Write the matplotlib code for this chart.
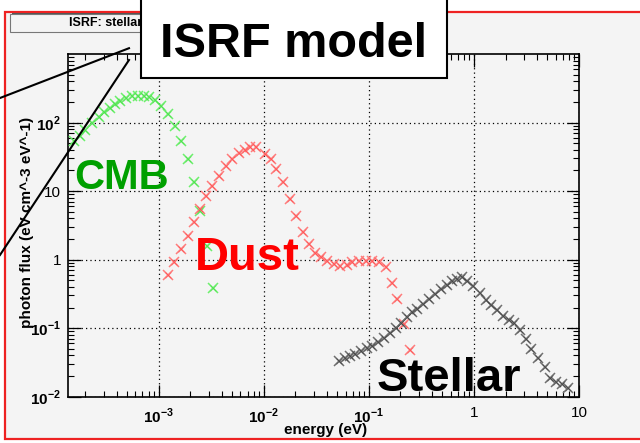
import matplotlib
matplotlib.use("Agg")
import matplotlib.pyplot as plt
from matplotlib.patches import Rectangle
from matplotlib.lines import Line2D
from matplotlib.ticker import FixedLocator, LogLocator, NullFormatter
from matplotlib.transforms import Bbox

plt.rcParams['font.family'] = ['Liberation Sans', 'DejaVu Sans']
plt.rcParams['mathtext.fontset'] = 'custom'
plt.rcParams['mathtext.rm'] = 'Liberation Sans:bold'
plt.rcParams['mathtext.bf'] = 'Liberation Sans:bold'

# ---- data: photon energy (eV) and flux (eV cm^-3 eV^-1) ----
E_cmb = [1.55e-4, 1.77e-4, 2.00e-4, 2.32e-4, 2.68e-4, 3.04e-4, 3.41e-4, 3.87e-4,
         4.32e-4, 4.92e-4, 5.58e-4, 6.31e-4, 7.20e-4, 8.03e-4, 9.16e-4, 1.06e-3,
         1.22e-3, 1.42e-3, 1.64e-3, 1.89e-3, 2.19e-3, 2.46e-3, 2.89e-3, 3.30e-3]
F_cmb = [53.0, 64.2, 76.7, 98.4, 118.7, 142, 163, 186, 208, 228, 240, 248, 248,
         235, 210, 176, 133, 89.8, 54.3, 29.4, 13.6, 5.18, 1.56, 0.387]

E_dust = [1.229e-3, 1.411e-3, 1.644e-3, 1.905e-3, 2.188e-3, 2.455e-3, 2.844e-3,
          3.243e-3, 3.784e-3, 4.385e-3, 5.035e-3, 5.78e-3, 6.59e-3, 7.46e-3,
          8.51e-3, 1.022e-2, 1.159e-2, 1.312e-2, 1.53e-2, 1.759e-2, 2.036e-2,
          2.338e-2, 2.69e-2, 3.04e-2, 3.467e-2, 4.018e-2, 4.645e-2, 5.37e-2,
          6.14e-2, 6.95e-2, 8.04e-2, 9.30e-2, 0.1076, 0.1245, 0.1442, 0.1644,
          0.1865, 0.2154, 0.2477]
F_dust = [0.594, 0.913, 1.432, 2.24, 3.50, 5.48, 8.37, 11.99, 16.77, 23.2, 29.4,
          35.9, 40.1, 43.4, 43.4, 35.1, 29.7, 21.2, 13.5, 7.75, 4.28, 2.56, 1.71,
          1.252, 1.087, 0.944, 0.866, 0.818, 0.846, 0.926, 0.967, 0.967, 0.944,
          0.913, 0.783, 0.462, 0.2674, 0.1148, 0.0488]

E_star = [0.0518, 0.0588, 0.0659, 0.0746, 0.0834, 0.0951, 0.1076, 0.122, 0.139,
          0.158, 0.1795, 0.204, 0.2286, 0.259, 0.289, 0.330, 0.3724, 0.4227,
          0.482, 0.5495, 0.614, 0.695, 0.775, 0.865, 0.986, 1.14, 1.29, 1.465,
          1.67, 1.905, 2.154, 2.404, 2.74, 3.105, 3.52, 4.08, 4.71, 5.26, 6.0,
          6.84, 7.89]
F_star = [0.0337, 0.0364, 0.0389, 0.0422, 0.0461, 0.0516, 0.0557, 0.0623, 0.0722,
          0.0854, 0.101, 0.1195, 0.146, 0.1705, 0.191, 0.2284, 0.2674, 0.316,
          0.374, 0.432, 0.483, 0.523, 0.560, 0.494, 0.418, 0.327, 0.261, 0.216,
          0.1824, 0.1527, 0.1334, 0.1195, 0.0954, 0.0698, 0.0499, 0.0369, 0.0275,
          0.01874, 0.01637, 0.01507, 0.01349]

x_ticks = [1e-3, 1e-2, 1e-1, 1, 10]
x_ticklabels = [r'$10^{-3}$', r'$10^{-2}$', r'$10^{-1}$', '1', '10']
y_ticks = [1e-2, 1e-1, 1, 10, 1e2]
y_ticklabels = [r'$10^{-2}$', r'$10^{-1}$', '1', '10', r'$10^{2}$']

W, H = 640, 443
fig = plt.figure(figsize=(W / 100, H / 100), dpi=100, facecolor='white')


def fx(x):
    return x / W


def fy(y):
    return 1 - y / H


# canvas pad with red frame
fig.patches.append(Rectangle((fx(5), fy(439)), fx(700) - fx(5), fy(12) - fy(439),
                             transform=fig.transFigure, facecolor='#f4f4f4',
                             edgecolor='#ee2222', linewidth=1.6, zorder=0))

ax = fig.add_axes([fx(68), fy(396.7), fx(579) - fx(68), fy(54) - fy(396.7)])
ax.set_zorder(1)
ax.set_facecolor('#f4f4f4')
ax.set_xscale('log')
ax.set_yscale('log')
ax.set_xlim(1.37e-4, 10)
ax.set_ylim(1e-2, 1e3)

ax.xaxis.set_major_locator(FixedLocator(x_ticks))
ax.yaxis.set_major_locator(FixedLocator(y_ticks))
ax.set_xticklabels(x_ticklabels)
ax.set_yticklabels(y_ticklabels)
ax.xaxis.set_minor_locator(LogLocator(base=10, subs=range(2, 10), numticks=20))
ax.yaxis.set_minor_locator(LogLocator(base=10, subs=range(2, 10), numticks=20))
ax.xaxis.set_minor_formatter(NullFormatter())
ax.yaxis.set_minor_formatter(NullFormatter())

ax.tick_params(which='both', direction='in', top=True, right=True, color='black')
ax.tick_params(which='major', length=9, width=0.9, labelsize=11)
ax.tick_params(which='minor', length=4.5, width=0.8)
ax.tick_params(axis='x', which='major', pad=7)
ax.tick_params(axis='y', which='major', pad=5)
for sp in ax.spines.values():
    sp.set_linewidth(1.2)

ax.grid(True, which='major', color='black', linestyle=(0, (1, 2.5)), linewidth=0.9)

# spectra: light crosses with a fainter darker cross on top
series = [
    (E_cmb, F_cmb, '#6cf06c', '#22cc22'),
    (E_dust, F_dust, '#ff7c7c', '#ff2020'),
    (E_star, F_star, '#707070', '#111111'),
]
for e, f, mcol, dcol in series:
    ax.plot(e, f, linestyle='none', marker='x', markersize=6.5, markeredgewidth=1.1,
            color=mcol, zorder=3)
    ax.plot(e, f, linestyle='none', marker='x', markersize=4, markeredgewidth=0.6,
            color=dcol, alpha=0.45, zorder=3)

# axis titles
fig.text(fx(367), fy(430), 'energy (eV)', ha='right', va='center',
         fontsize=11, fontweight='bold', zorder=4)
fig.text(fx(27), fy(222), 'photon flux (eV cm^-3 eV^-1)', ha='center', va='center',
         rotation=90, fontsize=11, fontweight='bold', zorder=4)

# component labels
fig.text(fx(74), fy(189), 'CMB', ha='left', va='baseline', fontsize=30,
         fontweight='bold', color='#00a000', zorder=4)
fig.text(fx(195), fy(270), 'Dust', ha='left', va='baseline', fontsize=34,
         fontweight='bold', color='#ff0000', zorder=4)
fig.text(fx(377), fy(391), 'Stellar', ha='left', va='baseline', fontsize=34,
         fontweight='bold', color='black', zorder=4)

# histogram title pave
fig.patches.append(Rectangle((fx(12), fy(33)), fx(440) - fx(12), fy(13.5) - fy(33),
                             transform=fig.transFigure, facecolor='#555555',
                             edgecolor='none', zorder=5))
fig.patches.append(Rectangle((fx(10), fy(31.5)), fx(440) - fx(10), fy(13.5) - fy(31.5),
                             transform=fig.transFigure, facecolor='#f4f4f4',
                             edgecolor='#777777', linewidth=0.8, zorder=6))
t = fig.text(fx(69), fy(23), 'ISRF: stellar', ha='left', va='center',
             fontsize=9, fontweight='bold', zorder=7)
t.set_clip_box(Bbox.from_extents(0, 0, fx(141) * W, H))

# pointer lines
fig.lines.append(Line2D([fx(0), fx(129)], [fy(98), fy(48.2)], transform=fig.transFigure,
                        color='black', linewidth=1.5, zorder=8))
fig.lines.append(Line2D([fx(0), fx(129)], [fy(255), fy(60)], transform=fig.transFigure,
                        color='black', linewidth=1.5, zorder=8))

# "ISRF model" box
fig.patches.append(Rectangle((fx(141), fy(78)), fx(447) - fx(141), fy(-10) - fy(78),
                             transform=fig.transFigure, facecolor='white',
                             edgecolor='black', linewidth=1.5, zorder=9))
fig.text(fx(294), fy(57), 'ISRF model', ha='center', va='baseline', fontsize=35,
         fontweight='bold', zorder=10)

fig.savefig('out.png', dpi=100, facecolor='white')
